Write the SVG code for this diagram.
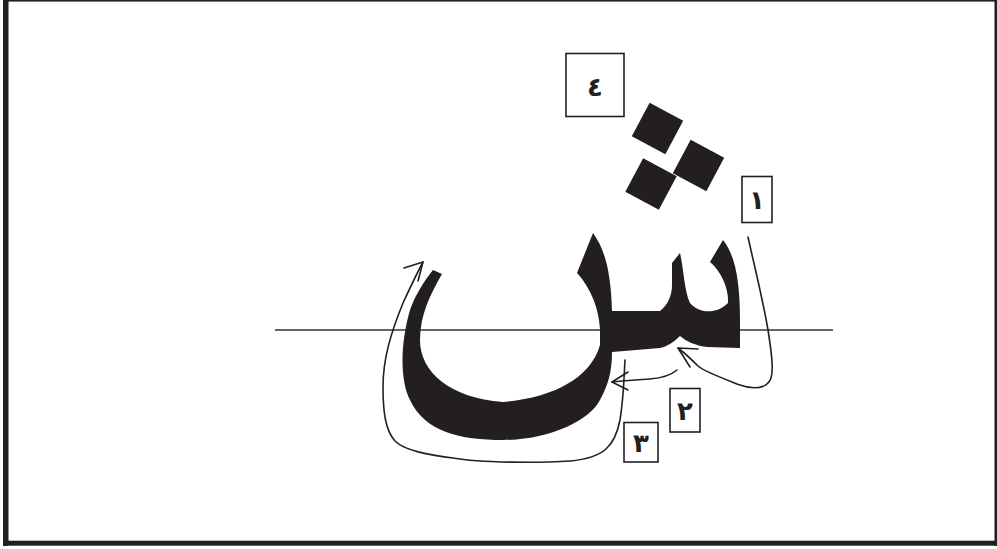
<svg xmlns="http://www.w3.org/2000/svg" width="997" height="549" viewBox="0 0 997 549">
<style>
.frame{fill:#231f20}
.ink{fill:#231f20}
.box{fill:#fff;stroke:#231f20;stroke-width:1.6}
.num{font-family:"DejaVu Sans",sans-serif;font-size:26px;font-weight:bold;fill:#231f20;text-anchor:middle}
.stroke{fill:none;stroke:#231f20;stroke-width:1.6;stroke-linecap:round;stroke-linejoin:round}
.base{stroke:#333;stroke-width:1.6}
</style>
<rect width="997" height="549" fill="#fff"/>
<g id="frame">
<rect class="frame" x="3" y="0" width="994" height="1.6"/>
<rect class="frame" x="994.5" y="0" width="2.5" height="546"/>
<rect class="frame" x="3" y="0" width="5.5" height="546"/>
<rect class="frame" x="3" y="540.7" width="994" height="5"/>
</g>
<g id="baseline">
<line class="base" x1="275" y1="330" x2="833" y2="330"/>
</g>
<g id="letter">
<path class="ink" d="M433,270 L442,274 C430,295 420,315 420,340 C420,372 450,398 503,402 C550,398 590,380 600,345 L600,330 C599,305 588,285 577,273 L593,233 C604,248 611,270 612,311 L660,311 C668,305 672,295 672,285 L672,263 L680,253 C684,270 684,290 690,303 C697,312 715,316 728,303 C729,290 722,272 710,262 L723,240 C735,255 740,280 740,320 L740,348 L707,347 Q690,345 680,336 Q670,346 660,348 L612,352 C612,372 608,385 600,400 C590,420 550,440 503,440 C460,440 425,432 410,400 C400,380 400,345 410,310 C415,295 425,280 433,270 Z"/>
<rect class="ink" x="-19" y="-19" width="38" height="38" transform="translate(657.5,128.5) rotate(28)"/>
<rect class="ink" x="-19" y="-19" width="38" height="38" transform="translate(698.5,165.5) rotate(28)"/>
<rect class="ink" x="-19" y="-19" width="38" height="38" transform="translate(651,184) rotate(28)"/>
</g>
<g id="connectors">
<path class="stroke" d="M748,237 C753,260 763,300 768,330 C772,355 775,378 768,383 C762,390 748,388 740,385 C722,378 705,372 698,366 C692,360 686,354 678,348"/>
<path class="stroke" d="M698,349 L678,348 L690,367"/>
<path class="stroke" d="M677,370 C670,376 662,378 650,379 C635,380 622,381 612,382"/>
<path class="stroke" d="M628,372 L612,382 L628,390"/>
<path class="stroke" d="M625,360 C624,375 624,395 620,420 C615,445 605,458 570,461 C540,463 480,463 453,458 C430,455 405,451 395,441 C385,430 383,410 383,387 C383,360 390,335 403,303 C410,288 416,275 423,262"/>
<path class="stroke" d="M404,268 L423,262 L418,281"/>
</g>
<g id="label4">
<rect class="box" x="566" y="53.5" width="58" height="63"/>
<text class="num" x="595" y="96">٤</text>
</g>
<g id="label1">
<rect class="box" x="742" y="176.5" width="30" height="46"/>
<text class="num" x="757" y="209">١</text>
</g>
<g id="label2">
<rect class="box" x="670" y="388.5" width="30" height="43.5"/>
<text class="num" x="685" y="420">٢</text>
</g>
<g id="label3">
<rect class="box" x="624" y="422.5" width="34" height="39.5"/>
<text class="num" x="641" y="452">٣</text>
</g>
</svg>
